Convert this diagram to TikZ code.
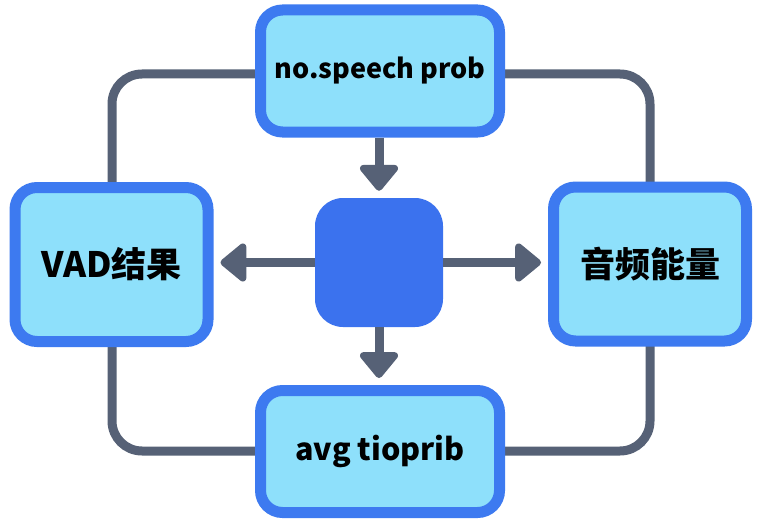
\documentclass[tikz,border=0pt]{standalone}
\usepackage{fontspec}
\setmainfont{Noto Sans CJK SC}
\usetikzlibrary{arrows.meta}
\definecolor{bordblue}{HTML}{3D7AF0}
\definecolor{fillblue}{HTML}{8EE0FB}
\definecolor{coreblue}{HTML}{3B72EE}
\definecolor{linegray}{HTML}{566176}
\begin{document}
\begin{tikzpicture}[x=1pt,y=-1pt,
  box/.style={draw=bordblue, fill=fillblue, line width=11pt, rounded corners=22pt,
    inner sep=0pt, text=black},
  hbox/.style={box, minimum width=239pt, minimum height=122pt},
  vbox/.style={box, minimum width=193pt, minimum height=154pt,
    font=\fontsize{35}{40}\selectfont\bfseries},
  core/.style={fill=coreblue, draw=none, rounded corners=28pt,
    minimum width=128pt, minimum height=129pt, inner sep=0pt},
  loopline/.style={draw=linegray, line width=9pt, rounded corners=30pt},
  arr/.style={draw=linegray, line width=9pt,
    -{Triangle[length=28pt,width=44pt,round]}, shorten >=7pt}
]
\useasboundingbox (0,0) rectangle (758,527);
\fill[white] (0,0) rectangle (758,527);
\coordinate (tl) at (112,74);
\coordinate (tr) at (650,74);
\coordinate (bl) at (112,451);
\coordinate (br) at (650,451);
\draw[loopline] (380,74) -- (tr) -- (br) -- (bl) -- (tl) -- (380,74);
\node[hbox, font=\fontsize{27}{32}\selectfont\bfseries] (t) at (380,71) {no.speech prob};
\node[hbox, font=\fontsize{30.5}{35}\selectfont\bfseries] (b) at (380,451.5) {avg tioprib};
\node[vbox] (l) at (111.5,264.5) {VAD结果};
\node[vbox] (r) at (650,264) {音频能量};
\node[core] (c) at (379,262.5) {};
\draw[arr] (t.south -| c.north) -- (c.north);
\draw[arr] (c.south) -- (b.north -| c.south);
\draw[arr] (c.west) -- (l.east |- c.west);
\draw[arr] (c.east) -- (r.west |- c.east);
\end{tikzpicture}
\end{document}
